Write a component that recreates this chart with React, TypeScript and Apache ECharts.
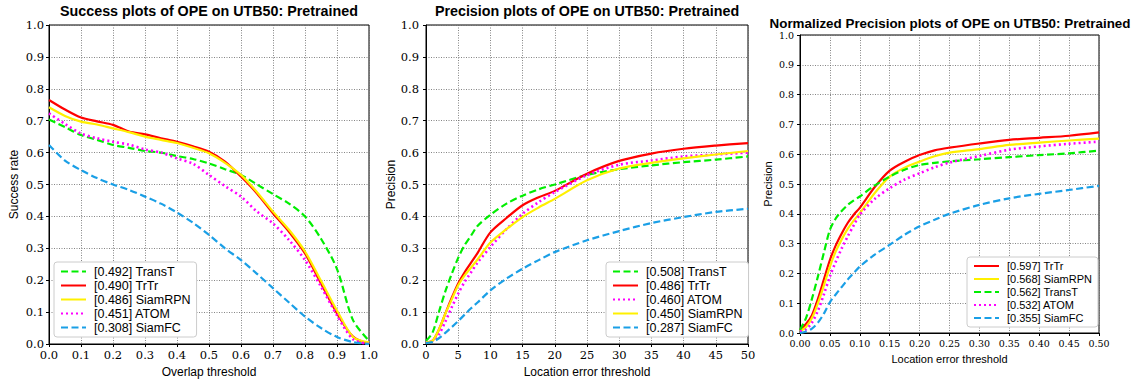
import React, { useEffect, useRef } from "react";
import * as echarts from "echarts";

// ---------- Plot 1: Success plots (overlap threshold) ----------
const successX = [0, 0.05, 0.1, 0.15, 0.2, 0.25, 0.3, 0.35, 0.4, 0.45, 0.5, 0.55, 0.6, 0.65, 0.7, 0.75, 0.8, 0.85, 0.9, 0.95, 1.0];
const successTransT = [0.704, 0.68, 0.655, 0.64, 0.624, 0.615, 0.605, 0.6, 0.589, 0.58, 0.566, 0.548, 0.53, 0.5, 0.47, 0.44, 0.4, 0.33, 0.235, 0.075, 0.01];
const successTrTr = [0.765, 0.735, 0.71, 0.698, 0.687, 0.666, 0.657, 0.645, 0.634, 0.62, 0.603, 0.572, 0.525, 0.472, 0.41, 0.352, 0.284, 0.19, 0.096, 0.023, 0.0];
const successSiamRPN = [0.742, 0.715, 0.697, 0.688, 0.676, 0.664, 0.65, 0.64, 0.63, 0.615, 0.598, 0.568, 0.53, 0.476, 0.415, 0.358, 0.29, 0.198, 0.105, 0.022, 0.005];
const successATOM = [0.723, 0.69, 0.66, 0.645, 0.634, 0.625, 0.61, 0.6, 0.582, 0.565, 0.53, 0.495, 0.462, 0.415, 0.378, 0.326, 0.263, 0.18, 0.09, 0.015, 0.0];
const successSiamFC = [0.624, 0.575, 0.545, 0.52, 0.5, 0.483, 0.462, 0.44, 0.412, 0.38, 0.342, 0.3, 0.263, 0.22, 0.175, 0.13, 0.086, 0.05, 0.022, 0.006, 0.0];
const successNames = ["[0.492] TransT", "[0.490] TrTr", "[0.486] SiamRPN", "[0.451] ATOM", "[0.308] SiamFC"];

// ---------- Plot 2: Precision plots (location error threshold) ----------
const precX = [0, 1, 2, 3, 4, 5, 6, 7, 8, 10, 12.5, 15, 17.5, 20, 25, 30, 35, 40, 45, 50];
const precTransT = [0.01, 0.035, 0.1, 0.165, 0.22, 0.27, 0.31, 0.34, 0.37, 0.405, 0.44, 0.465, 0.485, 0.5, 0.53, 0.548, 0.56, 0.57, 0.578, 0.588];
const precTrTr = [0.005, 0.01, 0.045, 0.095, 0.145, 0.19, 0.225, 0.255, 0.285, 0.35, 0.395, 0.435, 0.46, 0.48, 0.534, 0.574, 0.597, 0.612, 0.622, 0.63];
const precATOM = [0.005, 0.01, 0.03, 0.07, 0.115, 0.158, 0.195, 0.225, 0.255, 0.304, 0.36, 0.408, 0.445, 0.476, 0.529, 0.562, 0.575, 0.588, 0.594, 0.6];
const precSiamRPN = [0.005, 0.01, 0.045, 0.095, 0.14, 0.184, 0.215, 0.24, 0.265, 0.318, 0.36, 0.398, 0.428, 0.455, 0.513, 0.55, 0.568, 0.582, 0.594, 0.605];
const precSiamFC = [0.003, 0.006, 0.018, 0.035, 0.053, 0.072, 0.092, 0.112, 0.13, 0.168, 0.205, 0.236, 0.263, 0.288, 0.325, 0.354, 0.379, 0.398, 0.414, 0.424];
const precNames = ["[0.508] TransT", "[0.486] TrTr", "[0.460] ATOM", "[0.450] SiamRPN", "[0.287] SiamFC"];

// ---------- Plot 3: Normalized precision plots ----------
const normX = [0, 0.01, 0.02, 0.03, 0.04, 0.05, 0.06, 0.07, 0.08, 0.09, 0.1, 0.125, 0.15, 0.175, 0.2, 0.225, 0.25, 0.3, 0.35, 0.4, 0.45, 0.5];
const normTrTr = [0.01, 0.03, 0.06, 0.115, 0.18, 0.245, 0.295, 0.335, 0.37, 0.397, 0.42, 0.49, 0.545, 0.575, 0.597, 0.613, 0.622, 0.636, 0.648, 0.655, 0.662, 0.673];
const normSiamRPN = [0.005, 0.02, 0.05, 0.1, 0.16, 0.223, 0.275, 0.315, 0.35, 0.378, 0.402, 0.47, 0.525, 0.555, 0.575, 0.593, 0.605, 0.617, 0.631, 0.639, 0.646, 0.652];
const normTransT = [0.01, 0.05, 0.115, 0.19, 0.27, 0.346, 0.385, 0.41, 0.43, 0.445, 0.458, 0.495, 0.525, 0.548, 0.564, 0.571, 0.576, 0.583, 0.59, 0.597, 0.603, 0.612];
const normATOM = [0.005, 0.012, 0.035, 0.075, 0.13, 0.19, 0.24, 0.285, 0.325, 0.362, 0.397, 0.45, 0.486, 0.515, 0.536, 0.556, 0.572, 0.594, 0.615, 0.626, 0.635, 0.642];
const normSiamFC = [0.0, 0.005, 0.015, 0.035, 0.065, 0.103, 0.13, 0.155, 0.18, 0.202, 0.223, 0.263, 0.296, 0.33, 0.358, 0.38, 0.4, 0.43, 0.452, 0.467, 0.48, 0.494];
const normNames = ["[0.597] TrTr", "[0.568] SiamRPN", "[0.562] TransT", "[0.532] ATOM", "[0.355] SiamFC"];

const titles = [
  "Success plots of OPE on UTB50: Pretrained",
  "Precision plots of OPE on UTB50: Pretrained",
  "Normalized Precision plots of OPE on UTB50: Pretrained",
];

const STYLE: Record<string, { color: string; type: any; width: number }> = {
  TransT: { color: "#00ee00", type: [7, 3.5], width: 2.2 },
  TrTr: { color: "#ff0000", type: "solid", width: 2.2 },
  SiamRPN: { color: "#fff000", type: "solid", width: 2.2 },
  ATOM: { color: "#ff00ff", type: [2, 3], width: 2.6 },
  SiamFC: { color: "#1a9fe6", type: [7, 3.5], width: 2.2 },
};

function mkSeries(name: string, xs: number[], ys: number[], idx: number) {
  const key = name.split("] ")[1];
  const s = STYLE[key];
  return {
    type: "line",
    name,
    xAxisIndex: idx,
    yAxisIndex: idx,
    data: xs.map((x, i) => [x, ys[i]]),
    showSymbol: false,
    symbol: "none",
    smooth: 0.3,
    color: s.color,
    lineStyle: { color: s.color, type: s.type, width: s.width },
    silent: true,
  };
}

const SERIF = "DejaVu Serif";
const SANS = "Liberation Sans";

function xAxis(idx: number, max: number, interval: number, digits: number, name: string, labelSize: number, nameSize: number, nameGap: number) {
  return {
    gridIndex: idx,
    type: "value",
    min: 0,
    max,
    interval,
    name,
    nameLocation: "middle",
    nameGap,
    nameTextStyle: { fontFamily: SANS, fontSize: nameSize, color: "#000" },
    axisLine: { show: true, onZero: false, lineStyle: { color: "#000", width: 1 } },
    axisTick: { show: true, length: 3, lineStyle: { color: "#000" } },
    axisLabel: {
      formatter: (v: number) => v.toFixed(digits),
      fontFamily: SERIF,
      fontSize: labelSize,
      color: "#000",
      margin: 5,
    },
    splitLine: { show: true, lineStyle: { color: "#666", type: [1, 1.5], width: 0.8 } },
  };
}

function yAxis(idx: number, name: string, labelSize: number, nameSize: number, nameGap: number, margin: number) {
  return {
    gridIndex: idx,
    type: "value",
    min: 0,
    max: 1,
    interval: 0.1,
    name,
    nameLocation: "middle",
    nameGap,
    nameTextStyle: { fontFamily: SANS, fontSize: nameSize, color: "#000" },
    axisLine: { show: true, onZero: false, lineStyle: { color: "#000", width: 1 } },
    axisTick: { show: true, length: 3, lineStyle: { color: "#000" } },
    axisLabel: {
      formatter: (v: number) => v.toFixed(1),
      fontFamily: SERIF,
      fontSize: labelSize,
      color: "#000",
      margin,
    },
    splitLine: { show: true, lineStyle: { color: "#666", type: [1, 1.5], width: 0.8 } },
  };
}

function legend(names: string[], left: number, top: number, fontSize: number, rowH: number) {
  return {
    data: names,
    orient: "vertical",
    left,
    top,
    itemWidth: 25,
    itemHeight: 10,
    itemGap: 1,
    padding: [3, 6, 3, 6],
    backgroundColor: "#fff",
    borderColor: "#cccccc",
    borderWidth: 1,
    borderRadius: 3,
    selectedMode: false,
    itemStyle: { opacity: 0 },
    textStyle: { fontFamily: SANS, fontSize, color: "#000", lineHeight: rowH, padding: [0, 0, 0, 3] },
  };
}

export default function App() {
  const ref = useRef<HTMLDivElement>(null);
  useEffect(() => {
    if (!ref.current) return;
    const chart = echarts.init(ref.current, undefined, { renderer: "svg" });
    const series = [
      mkSeries(successNames[0], successX, successTransT, 0),
      mkSeries(successNames[1], successX, successTrTr, 0),
      mkSeries(successNames[2], successX, successSiamRPN, 0),
      mkSeries(successNames[3], successX, successATOM, 0),
      mkSeries(successNames[4], successX, successSiamFC, 0),
      mkSeries(precNames[0], precX, precTransT, 1),
      mkSeries(precNames[1], precX, precTrTr, 1),
      mkSeries(precNames[2], precX, precATOM, 1),
      mkSeries(precNames[3], precX, precSiamRPN, 1),
      mkSeries(precNames[4], precX, precSiamFC, 1),
      mkSeries(normNames[0], normX, normTrTr, 2),
      mkSeries(normNames[1], normX, normSiamRPN, 2),
      mkSeries(normNames[2], normX, normTransT, 2),
      mkSeries(normNames[3], normX, normATOM, 2),
      mkSeries(normNames[4], normX, normSiamFC, 2),
    ];
    chart.setOption({
      animation: false,
      backgroundColor: "#fff",
      grid: [
        { left: 49, top: 25, width: 320, height: 319, show: true, borderColor: "#000", borderWidth: 1, backgroundColor: "transparent" },
        { left: 426, top: 25, width: 322, height: 319, show: true, borderColor: "#000", borderWidth: 1, backgroundColor: "transparent" },
        { left: 800, top: 35, width: 299, height: 298, show: true, borderColor: "#000", borderWidth: 1, backgroundColor: "transparent" },
      ],
      xAxis: [
        xAxis(0, 1, 0.1, 1, "Overlap threshold", 11.5, 12, 22),
        xAxis(1, 50, 5, 0, "Location error threshold", 11.5, 12, 22),
        xAxis(2, 0.5, 0.05, 2, "Location error threshold", 9.5, 11, 20),
      ],
      yAxis: [
        yAxis(0, "Success rate", 11.5, 12, 29, 5),
        yAxis(1, "Precision", 11.5, 12, 28, 7),
        yAxis(2, "Precision", 9.5, 11, 27, 6),
      ],
      legend: [
        legend(successNames, 54, 262, 12.5, 13),
        legend(precNames, 606, 262, 12.5, 13),
        legend(normNames, 967, 257, 11, 12),
      ],
      graphic: [
        { type: "text", x: 209, y: 10.5, style: { text: titles[0], font: `bold 14.3px "${SANS}"`, fill: "#000", textAlign: "center", verticalAlign: "middle" } },
        { type: "text", x: 587, y: 10.5, style: { text: titles[1], font: `bold 14.3px "${SANS}"`, fill: "#000", textAlign: "center", verticalAlign: "middle" } },
        { type: "text", x: 950, y: 23, style: { text: titles[2], font: `bold 13.4px "${SANS}"`, fill: "#000", textAlign: "center", verticalAlign: "middle" } },
      ],
      series,
    });
    return () => chart.dispose();
  }, []);
  return <div ref={ref} style={{ position: "absolute", left: 0, top: 0, width: 1148, height: 385 }} />;
}
